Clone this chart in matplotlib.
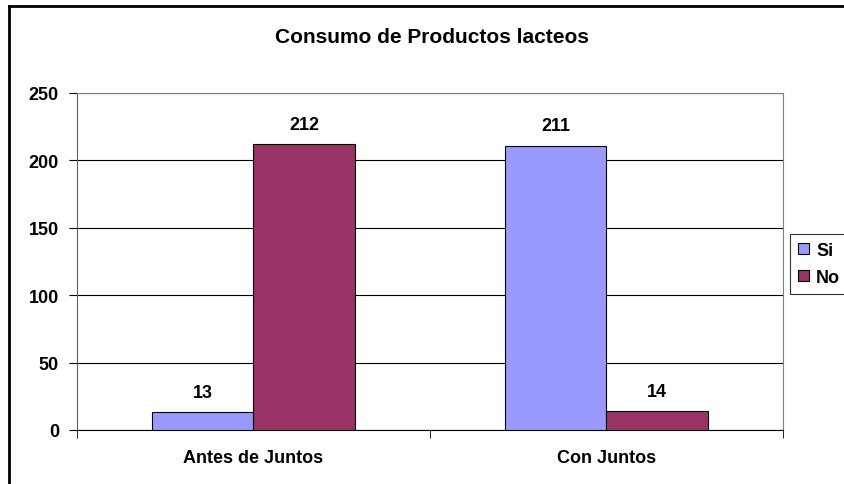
import matplotlib
matplotlib.use("Agg")
import matplotlib.pyplot as plt
import numpy as np
from matplotlib.lines import Line2D

categories = ["Antes de Juntos", "Con Juntos"]
series_names = ["Si", "No"]
si_values = [13, 211]
no_values = [212, 14]
yticks = [0, 50, 100, 150, 200, 250]

plt.rcParams['font.family'] = ['Liberation Sans', 'DejaVu Sans']

fig = plt.figure(figsize=(8.45, 4.85), dpi=100)
ax = fig.add_axes([77/845, 54/485, 706/845, 337/485])

x = np.arange(len(categories))
w = 0.287
colors = ["#9999FF", "#993366"]
b1 = ax.bar(x - w/2, si_values, w, color=colors[0], edgecolor="black", linewidth=0.8, label=series_names[0], zorder=3)
b2 = ax.bar(x + w/2, no_values, w, color=colors[1], edgecolor="black", linewidth=0.8, label=series_names[1], zorder=3)
for bars in (b1, b2):
    for r in bars:
        ax.annotate(f"{int(r.get_height())}", (r.get_x() + r.get_width()/2, r.get_height()),
                    xytext=(0, 8), textcoords="offset points", ha="center", va="bottom",
                    fontsize=13, fontweight="bold")

ax.set_xlim(-0.5, 1.5)
ax.set_ylim(0, 250)
ax.set_yticks(yticks)
ax.set_yticklabels([str(t) for t in yticks], fontsize=13, fontweight="bold")
ax.yaxis.grid(True, color="black", linewidth=0.8, zorder=0)
ax.set_axisbelow(True)

ax.set_xticks(x)
ax.set_xticklabels(categories, fontsize=13, fontweight="bold")
ax.tick_params(axis="x", length=0, pad=14)
ax.set_xticks([-0.5, 0.5, 1.5], minor=True)
ax.tick_params(axis="x", which="minor", length=6, color="black", direction="out")
ax.tick_params(axis="y", length=6, color="black", direction="out", pad=7)

for s in ["top", "right"]:
    ax.spines[s].set_color("#808080")
    ax.spines[s].set_linewidth(0.8)
ax.spines["left"].set_color("#606060")
ax.spines["bottom"].set_color("black")

fig.text(432/845, 1 - 38/485, "Consumo de Productos lacteos", ha="center", va="center",
         fontsize=15, fontweight="bold")

leg = ax.legend(loc="center left", bbox_to_anchor=(790/845, 1 - 265/485), bbox_transform=fig.transFigure,
                frameon=True, fancybox=False, edgecolor="black",
                prop={"weight": "bold", "size": 13}, handlelength=0.6, handleheight=0.6,
                handletextpad=0.4, borderpad=0.45, labelspacing=0.55, borderaxespad=0)
leg.get_frame().set_linewidth(0.8)

# outer chart border
fig.add_artist(Line2D([9.5/845, 9.5/845], [0, 1 - 7/485], transform=fig.transFigure, color="black", linewidth=2))
fig.add_artist(Line2D([9/845, 1], [1 - 7/485, 1 - 7/485], transform=fig.transFigure, color="black", linewidth=2))

fig.savefig("out.png", dpi=100)
